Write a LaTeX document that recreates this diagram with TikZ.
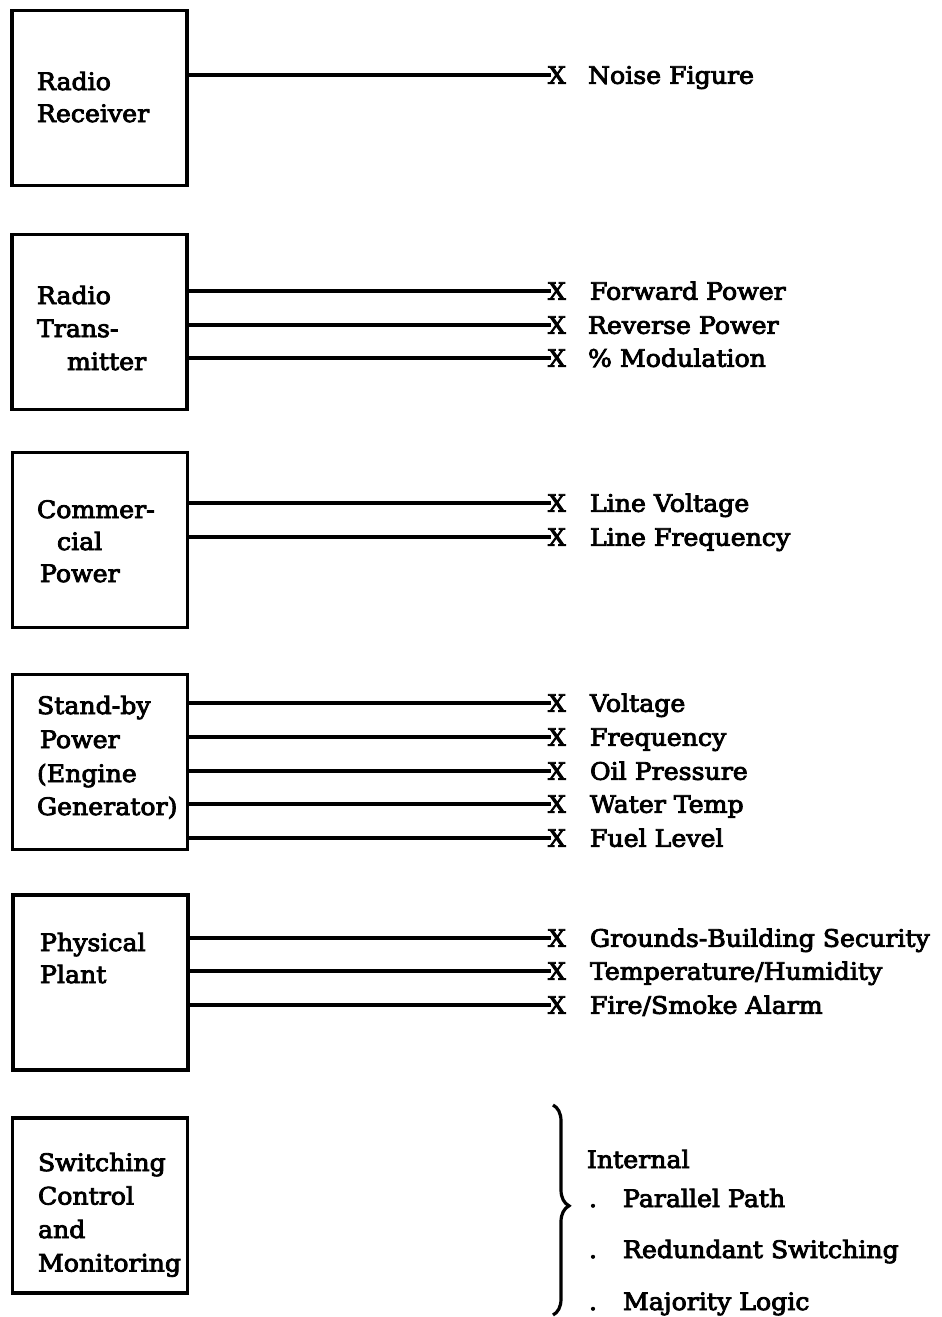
\documentclass[tikz,border=0pt]{standalone}
\usepackage{fontspec}
\setmainfont{DejaVu Serif}[FakeStretch=1.05, FakeBold=3.5]
\usetikzlibrary{decorations.pathreplacing}
\tikzset{
  every node/.style={font=\fontsize{24}{30}\selectfont, inner sep=0pt, outer sep=0pt},
  boxst/.style={draw, line width=3.5pt, minimum width=175pt, minimum height=175pt},
  txt/.style={anchor=base west},
  xmark/.style={anchor=west, text height=17.5pt, text depth=0pt},
  conn/.style={line width=3.8pt},
  bracest/.style={line width=3.2pt, decorate, decoration={brace, amplitude=16pt, aspect=0.48}}
}
\begin{document}
\begin{tikzpicture}[x=1pt, y=-1pt]
\useasboundingbox[fill=white] (0,0) rectangle (942,1317);

% ---- Box 1: Radio Receiver
\node[boxst] (b1) at (99.5,98) {};
\node[txt] (b1t1) at (37,90) {Radio};
\node[txt] (b1t2) at (37,122) {Receiver};
\node[xmark] (x11) at (548,75) {X};
\node[txt] (l11) at (588,83.75) {Noise Figure};
\draw[conn] (x11.west -| b1.east) -- ([xshift=3pt]x11.west);

% ---- Box 2: Radio Transmitter
\node[boxst] (b2) at (99.5,322) {};
\node[txt] (b2t1) at (37,304) {Radio};
\node[txt] (b2t2) at (37,337) {Trans-};
\node[txt] (b2t3) at (67,370) {mitter};
\node[xmark] (x21) at (548,291) {X};
\node[xmark] (x22) at (548,325) {X};
\node[xmark] (x23) at (548,358) {X};
\node[txt] (l21) at (590,299.75) {Forward Power};
\node[txt] (l22) at (588,333.75) {Reverse Power};
\node[txt] (l23) at (588,366.75) {\% Modulation};
\draw[conn] (x21.west -| b2.east) -- ([xshift=3pt]x21.west);
\draw[conn] (x22.west -| b2.east) -- ([xshift=3pt]x22.west);
\draw[conn] (x23.west -| b2.east) -- ([xshift=3pt]x23.west);

% ---- Box 3: Commercial Power
\node[boxst] (b3) at (100,540) {};
\node[txt] (b3t1) at (37,518) {Commer-};
\node[txt] (b3t2) at (57,550) {cial};
\node[txt] (b3t3) at (40,582) {Power};
\node[xmark] (x31) at (548,503) {X};
\node[xmark] (x32) at (548,537) {X};
\node[txt] (l31) at (590,511.75) {Line Voltage};
\node[txt] (l32) at (590,545.75) {Line Frequency};
\draw[conn] (x31.west -| b3.east) -- ([xshift=3pt]x31.west);
\draw[conn] (x32.west -| b3.east) -- ([xshift=3pt]x32.west);

% ---- Box 4: Stand-by Power
\node[boxst] (b4) at (100,762) {};
\node[txt] (b4t1) at (37,714) {Stand-by};
\node[txt] (b4t2) at (40,748) {Power};
\node[txt] (b4t3) at (37,782) {(Engine};
\node[txt] (b4t4) at (37,815) {Generator)};
\node[xmark] (x41) at (548,703) {X};
\node[xmark] (x42) at (548,737) {X};
\node[xmark] (x43) at (548,771) {X};
\node[xmark] (x44) at (548,804) {X};
\node[xmark] (x45) at (548,838) {X};
\node[txt] (l41) at (590,711.75) {Voltage};
\node[txt] (l42) at (590,745.75) {Frequency};
\node[txt] (l43) at (590,779.75) {Oil Pressure};
\node[txt] (l44) at (590,812.75) {Water Temp};
\node[txt] (l45) at (590,846.75) {Fuel Level};
\draw[conn] (x41.west -| b4.east) -- ([xshift=3pt]x41.west);
\draw[conn] (x42.west -| b4.east) -- ([xshift=3pt]x42.west);
\draw[conn] (x43.west -| b4.east) -- ([xshift=3pt]x43.west);
\draw[conn] (x44.west -| b4.east) -- ([xshift=3pt]x44.west);
\draw[conn] (x45.west -| b4.east) -- ([xshift=3pt]x45.west);

% ---- Box 5: Physical Plant
\node[boxst] (b5) at (100.5,982.5) {};
\node[txt] (b5t1) at (40,951) {Physical};
\node[txt] (b5t2) at (40,983) {Plant};
\node[xmark] (x51) at (548,938) {X};
\node[xmark] (x52) at (548,971) {X};
\node[xmark] (x53) at (548,1005) {X};
\node[txt] (l51) at (590,946.75) {Grounds-Building Security};
\node[txt] (l52) at (590,979.75) {Temperature/Humidity};
\node[txt] (l53) at (590,1013.75) {Fire/Smoke Alarm};
\draw[conn] (x51.west -| b5.east) -- ([xshift=3pt]x51.west);
\draw[conn] (x52.west -| b5.east) -- ([xshift=3pt]x52.west);
\draw[conn] (x53.west -| b5.east) -- ([xshift=3pt]x53.west);

% ---- Box 6: Switching Control and Monitoring
\node[boxst] (b6) at (100,1205.5) {};
\node[txt] (b6t1) at (38,1171) {Switching};
\node[txt] (b6t2) at (38,1204.5) {Control};
\node[txt] (b6t3) at (38,1238) {and};
\node[txt] (b6t4) at (38,1271.5) {Monitoring};

% ---- Brace and internal list
\draw[bracest] (553,1105) -- (553,1315);
\node[txt] (in0) at (587,1168) {Internal};
\node[txt] (d1) at (589,1207) {.};
\node[txt] (in1) at (623,1207) {Parallel Path};
\node[txt] (d2) at (589,1258) {.};
\node[txt] (in2) at (623,1258) {Redundant Switching};
\node[txt] (d3) at (589,1310) {.};
\node[txt] (in3) at (623,1310) {Majority Logic};
\end{tikzpicture}
\end{document}
